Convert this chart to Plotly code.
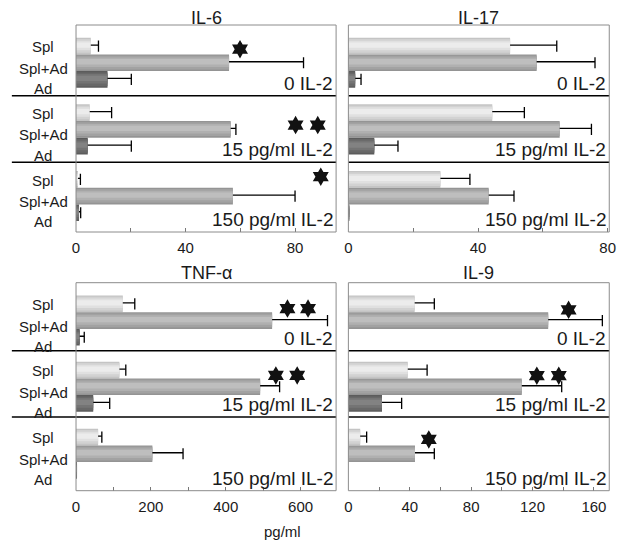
import plotly.graph_objects as go

W, H = 631, 542

cytokines = ["IL-6", "IL-17", "TNF-α", "IL-9"]
groups = ["Spl", "Spl+Ad", "Ad"]
conditions = ["0 IL-2", "15 pg/ml IL-2", "150 pg/ml IL-2"]

# values per condition (rows) for Spl, Spl+Ad, Ad
il6_mean = [[5.4, 55.9, 11.5], [5.0, 56.5, 4.3], [0.7, 57.3, 1.1]]
il6_err = [[2.8, 27.2, 8.7], [8.0, 1.9, 15.9], [0.9, 22.7, 0.6]]
il17_mean = [[49.9, 58.1, 2.1], [44.4, 65.2, 8.0], [28.4, 43.3, 0.3]]
il17_err = [[14.4, 18.0, 1.8], [9.9, 9.8, 7.3], [9.1, 7.8, None]]
tnf_mean = [[125, 524, 10], [116, 492, 46], [59, 204, 2]]
tnf_err = [[32, 148, 12], [17, 52, 44], [10, 82, None]]
il9_mean = [[43.2, 130.2, 0], [38.7, 113.0, 21.9], [7.7, 43.4, 0]]
il9_err = [[12.8, 35.3, None], [12.6, 26.0, 12.8], [4.2, 12.6, None]]

# significance stars (x in pg/ml, y in bar-row units)
il6_star_x = [[59.9], [80.2, 88.3], [89.4]]
il6_star_y = [[0.19], [0.74, 0.74], [-0.16]]
il17_star_x = [[], [], []]
il17_star_y = [[], [], []]
tnf_star_x = [[565, 620], [534, 591], []]
tnf_star_y = [[0.28, 0.28], [0.32, 0.32], []]
il9_star_x = [[143.5], [122.8, 137.1], [52.4]]
il9_star_y = [[0.36], [0.34, 0.34], [0.14]]

il6_ticks = [0, 20, 40, 60, 80]
il17_ticks = [0, 20, 40, 60, 80]
tnf_ticks = [0, 100, 200, 300, 400, 500, 600]
il9_ticks = [0, 20, 40, 60, 80, 100, 120, 140, 160]

panels = [
    dict(mean=il6_mean, err=il6_err, sx=il6_star_x, sy=il6_star_y, ticks=il6_ticks, step=40, xmax=95),
    dict(mean=il17_mean, err=il17_err, sx=il17_star_x, sy=il17_star_y, ticks=il17_ticks, step=40, xmax=80.5),
    dict(mean=tnf_mean, err=tnf_err, sx=tnf_star_x, sy=tnf_star_y, ticks=tnf_ticks, step=200, xmax=695),
    dict(mean=il9_mean, err=il9_err, sx=il9_star_x, sy=il9_star_y, ticks=il9_ticks, step=40, xmax=170),
]

# geometry in pixels
col_x = [(73.3, 338.0), (350.5, 616.0)]
row_edges = [[25.0, 95.7, 162.3, 232.0], [282.7, 350.7, 417.0, 490.7]]
bar_tops = [[37.7, 104.3, 171.0], [295.5, 361.7, 428.7]]
label_pos = [0.04, 1.33, 2.54]
unit = 16.7

# shaded bands (from top of bar, as fraction of thickness) to mimic the gradient fill
bands = [(0.0, 1.0), (0.08, 0.9), (0.18, 0.75), (0.28, 0.6)]
band_colors = [
    ["#c4c4c4", "#d2d2d2", "#e0e0e0", "#ececec"],
    ["#949494", "#a2a2a2", "#b0b0b0", "#bebebe"],
    ["#5c5c5c", "#686868", "#747474", "#828282"],
]
font_family = "Liberation Sans, Arial, sans-serif"
ink = "#1a1a1a"

fig = go.Figure()
layout = {}
annotations = []
shapes = []
ypos = list(range(len(groups)))

for p, pan in enumerate(panels):
    prow, pcol = divmod(p, 2)
    x0, x1 = col_x[pcol]
    edges = row_edges[prow]
    for j in range(3):
        k = p * 3 + j + 1
        sfx = "" if k == 1 else str(k)
        xa, ya = "x" + sfx, "y" + sfx
        top, bot = edges[j], edges[j + 1]
        tpad = (bar_tops[prow][j] - top) / unit
        bpad = (bot - bar_tops[prow][j] - 3 * unit) / unit
        last = j == 2
        layout["xaxis" + sfx] = dict(
            domain=[x0 / W, x1 / W], range=[0, pan["xmax"]], anchor=ya,
            tickvals=pan["ticks"],
            ticktext=[str(t) if t % pan["step"] == 0 else "" for t in pan["ticks"]],
            showticklabels=last, ticks="inside" if last else "", ticklen=4,
            tickcolor="#777", showgrid=False, zeroline=False, showline=False,
            ticklabelstandoff=5,
            tickfont=dict(size=15, color=ink, family=font_family),
        )
        layout["yaxis" + sfx] = dict(
            domain=[1 - bot / H, 1 - top / H], range=[2.5 + bpad, -0.5 - tpad],
            anchor=xa, showticklabels=False, showgrid=False, zeroline=False,
            showline=False, ticks="",
        )
        means = pan["mean"][j]
        errs = pan["err"][j]
        for b, (a, e) in enumerate(bands):
            trace = dict(
                x=means, y=ypos, orientation="h", width=e - a, offset=-0.5 + a,
                xaxis=xa, yaxis=ya, showlegend=False, hoverinfo="skip",
                marker=dict(color=[c[b] for c in band_colors], line=dict(width=0)),
            )
            if b == len(bands) - 1:
                trace["error_x"] = dict(
                    type="data", array=[v or 0 for v in errs], arrayminus=[0] * 3,
                    symmetric=False, width=0, thickness=1.3, color="black")
            fig.add_trace(go.Bar(**trace))
        fig.add_trace(go.Scatter(
            x=[m + v if v else None for m, v in zip(means, errs)], y=ypos,
            mode="markers", xaxis=xa, yaxis=ya, showlegend=False, hoverinfo="skip",
            marker=dict(symbol="line-ns", size=8, line=dict(width=1.3, color="black")),
        ))
        if pan["sx"][j]:
            fig.add_trace(go.Scatter(
                x=pan["sx"][j], y=pan["sy"][j], mode="markers", xaxis=xa, yaxis=ya,
                showlegend=False, hoverinfo="skip",
                marker=dict(symbol="hexagram", size=14, color="#111", line=dict(width=0)),
            ))
        annotations.append(dict(
            text=conditions[j], xref=xa + " domain", yref=ya + " domain", x=1, y=0,
            xanchor="right", yanchor="bottom", showarrow=False, xshift=-1,
            font=dict(size=19, color=ink, family=font_family),
        ))
        if pcol == 0:
            for i, g in enumerate(groups):
                annotations.append(dict(
                    text=g, xref="paper", yref=ya, x=40 / W, y=label_pos[i],
                    xanchor="center", yanchor="middle", showarrow=False,
                    font=dict(size=15, color=ink, family=font_family),
                ))
        if j > 0:
            lx = 8 if pcol == 0 else x0
            shapes.append(dict(type="line", xref="paper", yref="paper",
                               x0=lx / W, x1=x1 / W, y0=1 - top / H, y1=1 - top / H,
                               line=dict(color="black", width=1.5)))
    shapes.append(dict(type="rect", xref="paper", yref="paper",
                       x0=x0 / W, x1=x1 / W, y0=1 - edges[3] / H, y1=1 - edges[0] / H,
                       line=dict(color="#8c8c8c", width=1)))
    annotations.append(dict(
        text=cytokines[p], xref="paper", yref="paper", x=(x0 + x1) / 2 / W,
        y=1 - (18 if prow == 0 else 273) / H, xanchor="center", yanchor="middle",
        showarrow=False, font=dict(size=18, color=ink, family=font_family),
    ))

annotations.append(dict(
    text="pg/ml", xref="paper", yref="paper", x=283 / W, y=0,
    xanchor="center", yanchor="bottom", showarrow=False, yshift=0,
    font=dict(size=15, color=ink, family=font_family),
))

fig.update_layout(
    width=W, height=H, autosize=False,
    margin=dict(l=0, r=0, t=0, b=0),
    paper_bgcolor="white", plot_bgcolor="white",
    barmode="overlay", annotations=annotations, shapes=shapes,
    **layout,
)

# drop the default page margin so the figure sits at the window's corner
fig.write_html("out.html", config={"displayModeBar": False},
               post_script="document.body.style.margin='0';")
